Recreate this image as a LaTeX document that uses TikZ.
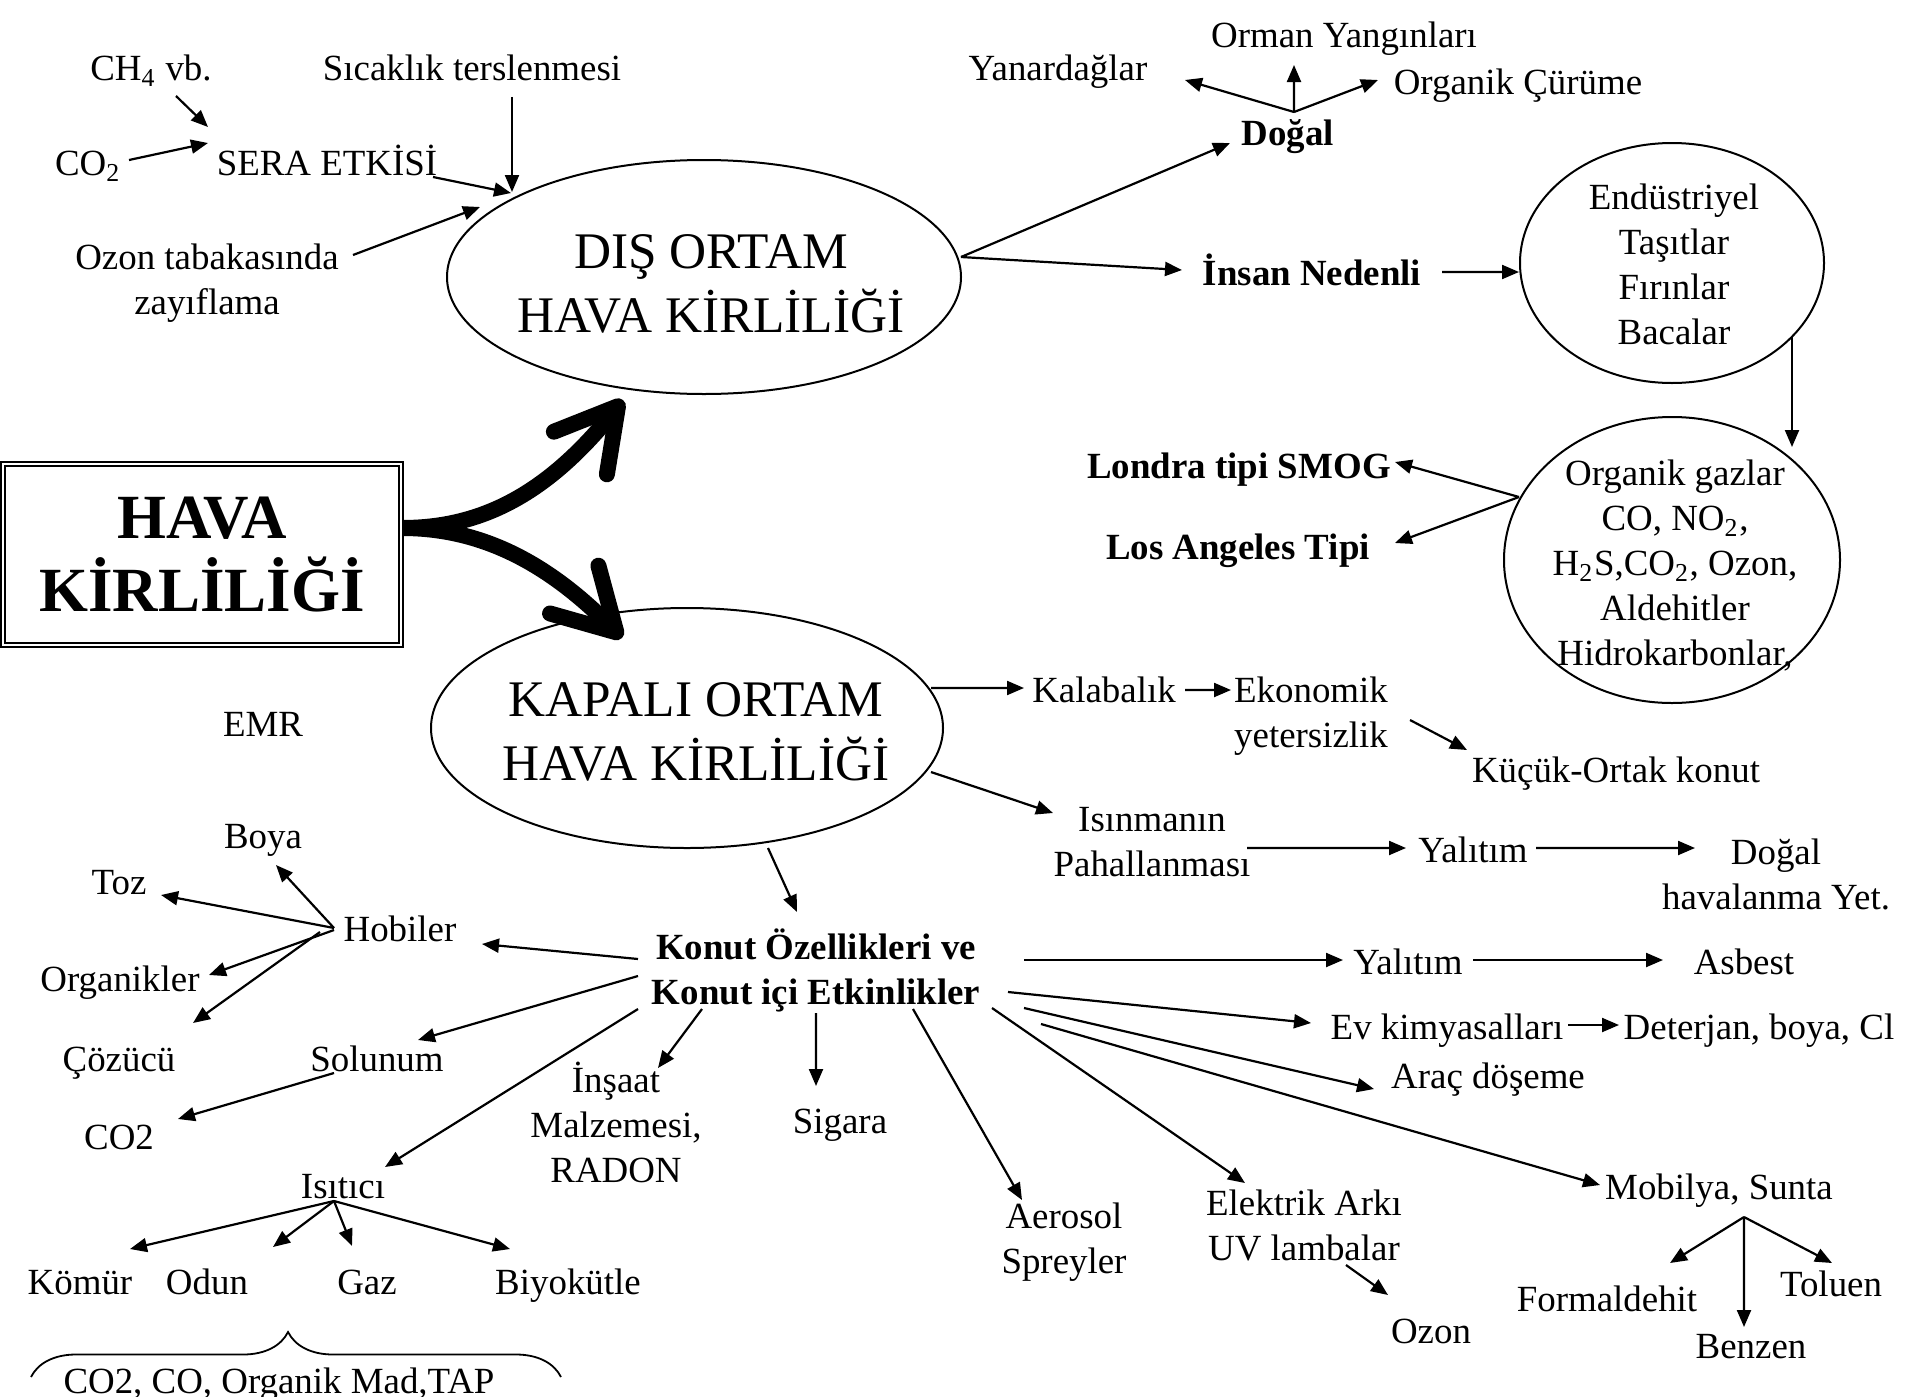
\documentclass[tikz,border=0pt]{standalone}
\usepackage{fontspec}
\setmainfont{Liberation Serif}
\usetikzlibrary{arrows.meta,calc,shapes.geometric,decorations.pathreplacing}
\newcommand\nsz{\fontsize{10.5pt}{12.8pt}\selectfont}
\newcommand\bsz{\fontsize{14.6pt}{18.3pt}\selectfont}
\newcommand\hsz{\fontsize{17.9pt}{20.8pt}\selectfont\bfseries}
\begin{document}
\begin{tikzpicture}[
  t/.style={font=\nsz, inner sep=0pt, text height=0.85em, text depth=0.15em},
  tm/.style={font=\nsz, inner sep=0pt, align=center},
  tb/.style={t, font=\nsz\bfseries},
  tmb/.style={tm, font=\nsz\bfseries},
  arr/.style={-{Triangle[length=0.17cm,width=0.14cm]}, line width=0.022cm},
  oval/.style={draw, ellipse, line width=0.02cm, inner sep=0pt},
  bigarr/.style={line width=0.16cm, -{Straight Barb[length=0.6cm,width=0.68cm,round]}}
]
\useasboundingbox (0,0) rectangle (19.05,-13.97);

% top left
\node[t] (ch4) at (1.51,-0.68) {CH\textsubscript{4} vb.};
\node[t] (sicak) at (4.72,-0.68) {Sıcaklık terslenmesi};
\node[t] (co2a) at (0.88,-1.63) {CO\textsubscript{2}};
\node[t] (sera) at (3.27,-1.63) {SERA ETKİSİ};
\node[tm] (ozonz) at (2.07,-2.83) {Ozon tabakasında\\zayıflama};
\node[oval, minimum width=5.14cm, minimum height=2.34cm] (dis) at (7.04,-2.77) {};
\node[tm, font=\bsz] (distxt) at (7.11,-2.84) {DIŞ ORTAM\\HAVA KİRLİLİĞİ};

% main box
\node[draw, double, double distance=0.025cm, line width=0.022cm, minimum width=3.98cm,
      minimum height=1.81cm, inner sep=0pt, align=center, font=\hsz] (box) at (2.02,-5.545) {HAVA\\KİRLİLİĞİ};

\node[oval, minimum width=5.12cm, minimum height=2.40cm] (kapali) at (6.87,-7.28) {};
\node[tm, font=\bsz] (kaptxt) at (6.96,-7.32) {KAPALI ORTAM\\HAVA KİRLİLİĞİ};
\node[t] (emr) at (2.63,-7.24) {EMR};

% top right
\node[t] (yanar) at (10.58,-0.68) {Yanardağlar};
\node[t] (orman) at (13.44,-0.35) {Orman Yangınları};
\node[t] (organikc) at (15.18,-0.82) {Organik Çürüme};
\node[tb] (dogal) at (12.88,-1.33) {Doğal};
\node[tb] (insan) at (13.12,-2.73) {İnsan Nedenli};
\node[oval, minimum width=3.04cm, minimum height=2.40cm] (endus) at (16.72,-2.63) {};
\node[tm] (endustxt) at (16.74,-2.64) {Endüstriyel\\Taşıtlar\\Fırınlar\\Bacalar};
\node[oval, minimum width=3.36cm, minimum height=2.86cm] (orgaz) at (16.72,-5.60) {};
\node[tm] (orgaztxt) at (16.75,-5.66) {Organik gazlar\\CO, NO\textsubscript{2},\\H\textsubscript{2}S,CO\textsubscript{2}, Ozon,\\Aldehitler\\Hidrokarbonlar,};
\node[tb] (londra) at (12.39,-4.66) {Londra tipi SMOG};
\node[tb] (losang) at (12.38,-5.47) {Los Angeles Tipi};

% middle right
\node[t] (kalab) at (11.04,-6.90) {Kalabalık};
\node[tm] (ekon) at (13.11,-7.16) {Ekonomik\\yetersizlik};
\node[t] (kucuk) at (16.16,-7.70) {Küçük-Ortak konut};
\node[tm] (isinma) at (11.52,-8.42) {Isınmanın\\Pahallanması};
\node[t] (yal1) at (14.73,-8.50) {Yalıtım};
\node[tm] (dogal2) at (17.76,-8.74) {Doğal\\havalanma Yet.};

% konut
\node[tmb] (konut) at (8.16,-9.70) {Konut Özellikleri ve\\Konut içi Etkinlikler};
\node[t] (hobiler) at (4.00,-9.29) {Hobiler};
\node[t] (boya) at (2.63,-8.36) {Boya};
\node[t] (toz) at (1.19,-8.82) {Toz};
\node[t] (organikler) at (1.20,-9.79) {Organikler};
\node[t] (cozucu) at (1.19,-10.59) {Çözücü};
\node[t] (solunum) at (3.77,-10.59) {Solunum};
\node[t] (co2b) at (1.19,-11.37) {CO2};
\node[t] (isitici) at (3.43,-11.86) {Isıtıcı};
\node[t] (komur) at (0.80,-12.82) {Kömür};
\node[t] (odun) at (2.07,-12.82) {Odun};
\node[t] (gaz) at (3.67,-12.82) {Gaz};
\node[t] (biyo) at (5.68,-12.82) {Biyokütle};
\coordinate (brL) at (0.31,-13.77);
\coordinate (brR) at (5.61,-13.77);
\node[t] (tap) at (2.79,-13.81) {CO2, CO, Organik Mad,TAP};
\node[tm] (insaat) at (6.16,-11.22) {İnşaat\\Malzemesi,\\RADON};
\node[t] (sigara) at (8.40,-11.21) {Sigara};
\node[tm] (aerosol) at (10.64,-12.42) {Aerosol\\Spreyler};
\node[tm] (elektrik) at (13.04,-12.25) {Elektrik Arkı\\UV lambalar};
\node[t] (ozon2) at (14.31,-13.31) {Ozon};
\node[t] (mobilya) at (17.19,-11.87) {Mobilya, Sunta};
\node[t] (formal) at (16.07,-12.99) {Formaldehit};
\node[t] (benzen) at (17.51,-13.46) {Benzen};
\node[t] (toluen) at (18.31,-12.84) {Toluen};
\node[t] (yal2) at (14.08,-9.62) {Yalıtım};
\node[t] (asbest) at (17.44,-9.62) {Asbest};
\node[t] (evkim) at (14.47,-10.27) {Ev kimyasalları};
\node[t, anchor=west] (deter) at (16.23,-10.27) {Deterjan, boya, Cl};
\node[t] (arac) at (14.88,-10.76) {Araç döşeme};

% thick arrows
\coordinate (uptip) at (6.23,-4.00);
\coordinate (dntip) at (6.22,-6.38);
\draw[bigarr] ([yshift=0.265cm]box.east) .. controls +(0.76,0) and +(-0.78,-0.97) .. (uptip);
\draw[bigarr] ([yshift=0.265cm]box.east) .. controls +(0.76,0) and +(-0.77,0.78) .. (dntip);

% brace
\draw[decorate, decoration={brace, amplitude=0.45cm, aspect=0.485}, line width=0.018cm] (brL) -- (brR);

% connectors
\draw[arr] ($(ch4)+(0.25,-0.28)$) -- ($(sera)+(-1.19,0.36)$);
\draw[arr] ($(co2a)+(0.41,0.03)$) -- ($(sera)+(-1.19,0.20)$);
\draw[arr] ($(sera)+(1.06,-0.14)$) -- ($(dis)+(-1.93,0.84)$);
\draw[arr] ($(sicak)+(0.40,-0.29)$) -- ($(dis)+(-1.92,0.85)$);
\draw[arr] ($(ozonz)+(1.46,0.28)$) -- ($(dis)+(-2.24,0.70)$);
\draw[arr] ($(dis)+(2.57,0.20)$) -- ($(dogal)+(-0.58,-0.10)$);
\draw[arr] ($(dis)+(2.57,0.20)$) -- ($(insan)+(-1.30,0.03)$);
\draw[arr] ($(dogal)+(0.06,0.21)$) -- ($(yanar)+(1.27,-0.12)$);
\draw[arr] ($(dogal)+(0.06,0.21)$) -- ($(orman)+(-0.50,-0.30)$);
\draw[arr] ($(dogal)+(0.06,0.21)$) -- ($(organikc)+(-1.40,0.02)$);
\draw[arr] ($(insan)+(1.30,0.01)$) -- ($(endus)+(-1.53,-0.09)$);
\draw[arr] ($(endus)+(1.20,-0.74)$) -- ($(orgaz)+(1.20,1.13)$);
\draw[arr] ($(orgaz)+(-1.53,0.63)$) -- ($(londra)+(1.56,0.04)$);
\draw[arr] ($(orgaz)+(-1.53,0.63)$) -- ($(losang)+(1.57,0.04)$);
\draw[arr] ($(kapali)+(2.44,0.40)$) -- ($(kalab)+(-0.80,0.02)$);
\draw[arr] ($(kalab)+(0.81,0)$) -- ($(ekon)+(-0.80,0.26)$);
\draw[arr] ($(ekon)+(0.99,-0.04)$) -- ($(kucuk)+(-1.49,0.20)$);
\draw[arr] ($(kapali)+(2.44,-0.44)$) -- ($(isinma)+(-0.99,0.29)$);
\draw[arr] ($(isinma)+(0.95,-0.06)$) -- ($(yal1)+(-0.67,0.02)$);
\draw[arr] ($(yal1)+(0.63,0.02)$) -- ($(dogal2)+(-0.81,0.26)$);
\draw[arr] ($(kapali)+(0.81,-1.20)$) -- ($(konut)+(-0.19,0.58)$);
\draw[arr] ($(konut)+(-1.78,0.11)$) -- ($(hobiler)+(0.82,-0.15)$);
\draw[arr] ($(hobiler)+(-0.66,0.01)$) -- ($(boya)+(0.13,-0.29)$);
\draw[arr] ($(hobiler)+(-0.66,0.01)$) -- ($(toz)+(0.42,-0.13)$);
\draw[arr] ($(hobiler)+(-0.66,-0.01)$) -- ($(organikler)+(0.89,0.04)$);
\draw[arr] ($(hobiler)+(-0.80,-0.03)$) -- ($(cozucu)+(0.74,0.36)$);
\draw[arr] ($(konut)+(-1.78,-0.06)$) -- ($(solunum)+(0.41,0.19)$);
\draw[arr] ($(solunum)+(-0.43,-0.14)$) -- ($(co2b)+(0.59,0.18)$);
\draw[arr] ($(konut)+(-1.78,-0.39)$) -- ($(isitici)+(0.42,0.19)$);
\draw[arr] ($(isitici)+(-0.09,-0.15)$) -- ($(komur)+(0.50,0.33)$);
\draw[arr] ($(isitici)+(-0.09,-0.15)$) -- ($(odun)+(0.66,0.35)$);
\draw[arr] ($(isitici)+(-0.09,-0.15)$) -- ($(gaz)+(-0.15,0.36)$);
\draw[arr] ($(isitici)+(-0.09,-0.15)$) -- ($(biyo)+(-0.58,0.33)$);
\draw[arr] ($(konut)+(-1.14,-0.39)$) -- ($(insaat)+(0.42,0.54)$);
\draw[arr] ($(konut)+(0,-0.43)$) -- ($(sigara)+(-0.24,0.35)$);
\draw[arr] ($(konut)+(0.97,-0.39)$) -- ($(aerosol)+(-0.42,0.42)$);
\draw[arr] ($(konut)+(1.76,-0.38)$) -- ($(elektrik)+(-0.59,0.42)$);
\draw[arr] ($(elektrik)+(0.42,-0.40)$) -- ($(ozon2)+(-0.43,0.36)$);
\draw[arr] ($(konut)+(2.25,-0.54)$) -- ($(mobilya)+(-1.19,0.02)$);
\draw[arr] ($(mobilya)+(0.25,-0.30)$) -- ($(formal)+(0.63,0.36)$);
\draw[arr] ($(mobilya)+(0.25,-0.30)$) -- ($(benzen)+(-0.07,0.19)$);
\draw[arr] ($(mobilya)+(0.25,-0.30)$) -- ($(toluen)+(0.01,0.21)$);
\draw[arr] ($(konut)+(2.08,0.10)$) -- ($(yal2)+(-0.65,0.02)$);
\draw[arr] ($(yal2)+(0.65,0.02)$) -- ($(asbest)+(-0.81,0.02)$);
\draw[arr] ($(konut)+(1.92,-0.22)$) -- ($(evkim)+(-1.36,0.04)$);
\draw[arr] ($(evkim)+(1.21,0.02)$) -- ($(deter.west)+(-0.04,0.02)$);
\draw[arr] ($(konut)+(2.08,-0.38)$) -- ($(arac)+(-1.14,-0.13)$);
\end{tikzpicture}
\end{document}
